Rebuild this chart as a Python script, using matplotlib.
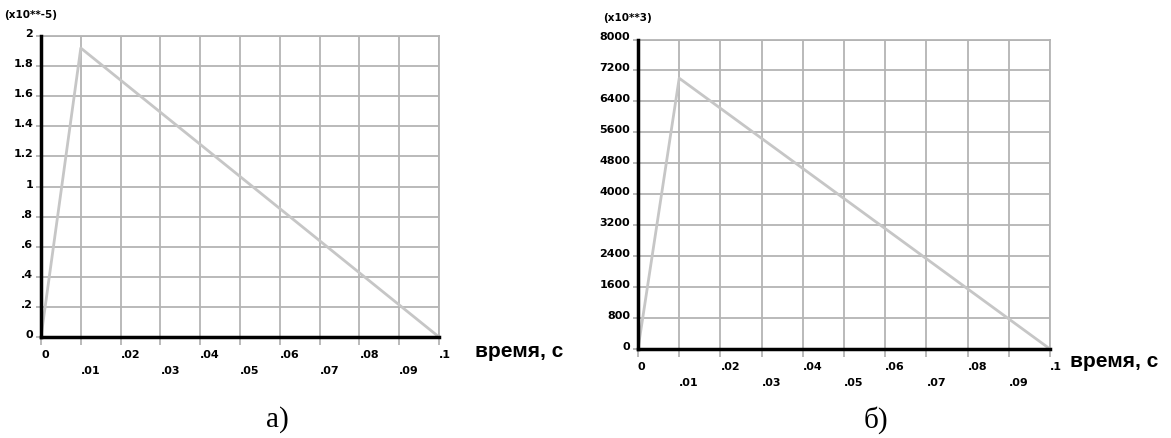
import matplotlib
matplotlib.use("Agg")
import matplotlib.pyplot as plt

# data: time, s  (peak at 0.01 s)
t = [0.0, 0.01, 0.1]
val_a = [0.0, 1.92, 0.0]      # x10**-5
val_b = [0.0, 7000.0, 0.0]    # x10**3

x_even = [0, 0.02, 0.04, 0.06, 0.08, 0.1]
x_even_lbl = ["0", ".02", ".04", ".06", ".08", ".1"]
x_odd = [0.01, 0.03, 0.05, 0.07, 0.09]
x_odd_lbl = [".01", ".03", ".05", ".07", ".09"]

ya_ticks = [0, 0.2, 0.4, 0.6, 0.8, 1.0, 1.2, 1.4, 1.6, 1.8, 2.0]
ya_lbl = ["0", ".2", ".4", ".6", ".8", "1", "1.2", "1.4", "1.6", "1.8", "2"]
yb_ticks = [0, 800, 1600, 2400, 3200, 4000, 4800, 5600, 6400, 7200, 8000]
yb_lbl = [str(v) for v in yb_ticks]

grid_col = "#b4b4b4"
line_col = "#c6c6c6"

W, H = 1171, 439
fig = plt.figure(figsize=(W / 100, H / 100), dpi=100)


def px_axes(left, top, right, bottom):
    return fig.add_axes([left / W, 1 - bottom / H, (right - left) / W, (bottom - top) / H])


def setup(ax, y, yticks, ylbl, ymax):
    ax.plot(t, y, color=line_col, lw=2, solid_capstyle="butt", zorder=3)
    ax.set_xlim(0, 0.1)
    ax.set_ylim(0, ymax)
    ax.set_xticks(x_even)
    ax.set_xticklabels(x_even_lbl)
    ax.set_xticks(x_odd, minor=True)
    ax.set_xticklabels(x_odd_lbl, minor=True)
    ax.set_yticks(yticks)
    ax.set_yticklabels(ylbl)
    ax.grid(True, which="both", color=grid_col, lw=1.3)
    ax.tick_params(axis="x", which="major", direction="out", length=6, width=1.3,
                   color=grid_col, pad=3, labelsize=8)
    ax.tick_params(axis="x", which="minor", direction="out", length=6, width=1.3,
                   color=grid_col, pad=14, labelsize=8)
    ax.tick_params(axis="y", direction="out", length=3.5, width=1.3,
                   color=grid_col, pad=2, labelsize=8)
    for lab in ax.get_xticklabels() + ax.get_xticklabels(minor=True):
        lab.set_ha("left")
        lab.set_fontweight("bold")
    for lab in ax.get_yticklabels():
        lab.set_va("baseline")
        lab.set_fontweight("bold")
    for s in ["top", "right"]:
        ax.spines[s].set_color(grid_col)
        ax.spines[s].set_linewidth(1.3)
    for s in ["left", "bottom"]:
        ax.spines[s].set_color("black")
        ax.spines[s].set_linewidth(2.5)
        ax.spines[s].set_zorder(4)


ax1 = px_axes(41, 37, 439, 338)
setup(ax1, val_a, ya_ticks, ya_lbl, 2.0)
ax2 = px_axes(638, 40.5, 1050, 350)
setup(ax2, val_b, yb_ticks, yb_lbl, 8000)

# multipliers
fig.text(4 / W, 1 - 15 / H, "(x10**-5)", fontsize=7.5, fontweight="bold", va="center", ha="left")
fig.text(603 / W, 1 - 18 / H, "(x10**3)", fontsize=7.5, fontweight="bold", va="center", ha="left")

# axis names
fig.text(475 / W, 1 - 352 / H, "время, с", fontsize=15, fontweight="bold",
         fontfamily="Liberation Sans", va="center", ha="left")
fig.text(1070 / W, 1 - 362 / H, "время, с", fontsize=15, fontweight="bold",
         fontfamily="Liberation Sans", va="center", ha="left")

# panel labels
fig.text(277 / W, 1 - 420 / H, "а)", fontsize=21, fontfamily="Liberation Serif",
         va="center", ha="center")
fig.text(876 / W, 1 - 420 / H, "б)", fontsize=21, fontfamily="Liberation Serif",
         va="center", ha="center")

plt.savefig("out.png", dpi=100)
